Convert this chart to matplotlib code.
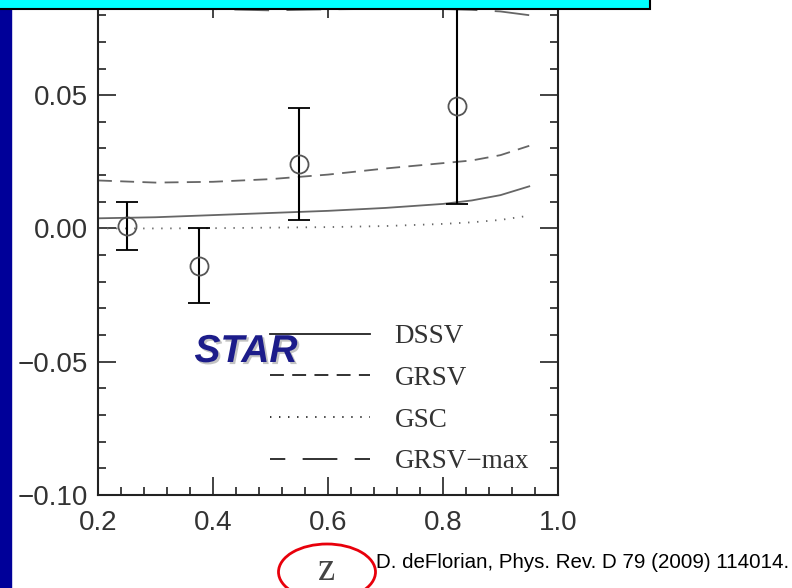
import matplotlib
matplotlib.use('Agg')
import matplotlib.pyplot as plt
import matplotlib.patheffects as pe
from matplotlib.patches import Rectangle, Ellipse
from matplotlib.ticker import MultipleLocator

plt.rcParams['lines.scale_dashes'] = False

# STAR measurements of the asymmetry vs z
z_data = [0.25, 0.375, 0.55, 0.825]
a_data = [0.001, -0.014, 0.024, 0.046]
a_err = [0.009, 0.014, 0.021, 0.037]

# model curves
z_curve = [0.2, 0.3, 0.4, 0.5, 0.6, 0.7, 0.8, 0.85, 0.9, 0.95]
dssv = [0.0038, 0.0042, 0.0050, 0.0058, 0.0066, 0.0077, 0.0092, 0.0105, 0.0125, 0.0158]
grsv = [0.0180, 0.0172, 0.0175, 0.0185, 0.0202, 0.0225, 0.0245, 0.0255, 0.0275, 0.0310]
gsc = [0.0000, 0.0000, 0.0001, 0.0003, 0.0005, 0.0009, 0.0017, 0.0023, 0.0032, 0.0048]
grsv_max = [0.0860, 0.0840, 0.0823, 0.0818, 0.0822, 0.0824, 0.0823, 0.0820, 0.0814, 0.0800]

curve_labels = ['DSSV', 'GRSV', 'GSC', 'GRSV\u2212max']
curve_styles = ['-', (0, (10, 6)), (0, (1, 5.5)), (14, (25, 12.5))]

fig = plt.figure(figsize=(7.92, 5.88), dpi=100)
W, H = 792, 588
ax = fig.add_axes([98 / W, 1 - 495 / H, 460 / W, 495 / H])

handles = []
for ys, style in zip([dssv, grsv, gsc, grsv_max], curve_styles):
    ln, = ax.plot(z_curve, ys, color='#666666', lw=1.3, linestyle=style)
    handles.append(ln)

ax.errorbar(z_data, a_data, yerr=a_err, fmt='o', ms=13, mfc='none', mec='#555555',
            mew=1.3, ecolor='black', elinewidth=1.5, capsize=8, capthick=1.5)

ax.set_xlim(0.2, 1.0)
ax.set_ylim(-0.1, 0.0857)
ax.xaxis.set_major_locator(MultipleLocator(0.2))
ax.xaxis.set_minor_locator(MultipleLocator(0.04))
ax.yaxis.set_major_locator(MultipleLocator(0.05))
ax.yaxis.set_minor_locator(MultipleLocator(0.01))
ax.xaxis.set_major_formatter(lambda v, p: f'{v:.1f}')
ax.yaxis.set_major_formatter(lambda v, p: f'{v:.2f}'.replace('-', '\u2212'))
ax.tick_params(which='both', direction='in', top=True, right=True, width=1.2, color='#222222')
ax.tick_params(which='major', length=13)
ax.tick_params(which='minor', length=6)
ax.tick_params(axis='x', pad=11, labelsize=20, labelcolor='#333333')
ax.tick_params(axis='y', pad=7, labelsize=20, labelcolor='#333333')
for lab in ax.get_xticklabels() + ax.get_yticklabels():
    lab.set_family('Liberation Sans')
for s in ax.spines.values():
    s.set_linewidth(1.5)
    s.set_color('#222222')

# legend lines drawn in black
leg = ax.legend(handles, curve_labels, loc='upper left', frameon=False,
                bbox_to_anchor=(270 / W, 1 - 324 / H), bbox_transform=fig.transFigure,
                prop={'family': 'Liberation Serif', 'size': 19.5},
                handlelength=3.7, handletextpad=0.9, labelspacing=0.62,
                borderpad=0, borderaxespad=0)
for h in leg.get_lines():
    h.set_color('#222222')
for t in leg.get_texts():
    t.set_color('#333333')

ax.text(246 / W, 1 - 352 / H, 'STAR', transform=fig.transFigure, ha='center', va='center',
        family='Liberation Sans', weight='bold', style='italic', size=28, color='#1c1c8a',
        path_effects=[pe.SimplePatchShadow(offset=(1.5, -1.5), shadow_rgbFace='#888888', alpha=0.5),
                      pe.Normal()])

# slide decorations
fig.add_artist(Rectangle((0, 0), 11 / W, 1 - 9 / H, transform=fig.transFigure,
                         color='#000099', zorder=0))
fig.add_artist(Rectangle((-0.01, 1 - 9 / H), 650 / W + 0.01, 0.05, transform=fig.transFigure,
                         fc='#00ffff', ec='black', lw=1.5, zorder=10, clip_on=False))

fig.text(327 / W, 1 - 571 / H, 'z', ha='center', va='center', family='Liberation Serif',
         size=28, color='#444444')
fig.add_artist(Ellipse((327 / W, 1 - 572 / H), 97 / W, 56 / H, transform=fig.transFigure,
                       fc='none', ec='#e8000b', lw=2, zorder=5))
fig.text(376 / W, 1 - 563 / H, 'D. deFlorian, Phys. Rev. D 79 (2009) 114014.', ha='left',
         va='center', family='Liberation Sans', size=14.8, color='black')

fig.savefig('out.png', dpi=100)
